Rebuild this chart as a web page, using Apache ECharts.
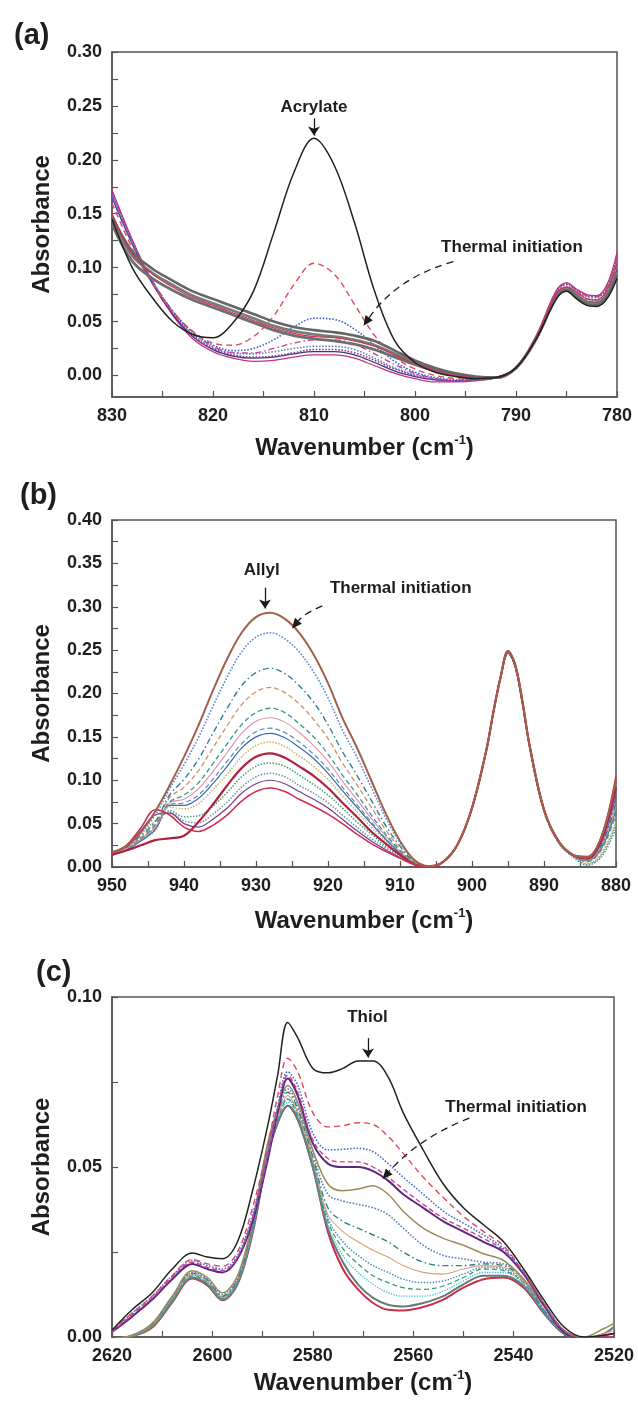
<!DOCTYPE html>
<html><head><meta charset="utf-8">
<script src="https://cdn.jsdelivr.net/npm/echarts@6/dist/echarts.min.js"></script>
<style>html,body{margin:0;padding:0;background:#fff}#c{width:638px;height:1413px}</style>
</head><body><div id="c"></div><script>
// ---------- Panel (a): acrylate band ----------
const WN_A = [830,828,826,824,822,820,818,816,814,812,810,808,806,804,802,800,798,796,794,792,790,788,786,785,784,783,782,781,780];
const A_INITIAL = [0.145,0.100,0.072,0.050,0.038,0.035,0.049,0.078,0.132,0.188,0.220,0.195,0.142,0.078,0.032,0.012,0.003,-0.001,-0.003,-0.002,0.007,0.034,0.071,0.078,0.071,0.065,0.064,0.071,0.090];
const A_RED_DASH = [0.160,0.118,0.085,0.059,0.041,0.030,0.028,0.036,0.055,0.084,0.104,0.094,0.066,0.037,0.017,0.006,0.0,-0.003,-0.004,-0.002,0.007,0.035,0.076,0.082,0.077,0.071,0.070,0.079,0.104];
const A_BLUE_DOT = [0.165,0.122,0.087,0.060,0.040,0.028,0.023,0.025,0.033,0.045,0.053,0.052,0.043,0.028,0.013,0.003,-0.002,-0.004,-0.004,-0.002,0.007,0.035,0.076,0.082,0.077,0.071,0.070,0.079,0.104];
const A_MAG_DASHDOT = [0.168,0.124,0.088,0.060,0.040,0.027,0.021,0.021,0.025,0.030,0.033,0.033,0.029,0.020,0.010,0.002,-0.003,-0.005,-0.004,-0.002,0.007,0.036,0.078,0.085,0.079,0.074,0.073,0.082,0.110];
const A_GRAY_1 = [0.148,0.115,0.099,0.088,0.078,0.071,0.064,0.057,0.050,0.045,0.042,0.040,0.037,0.032,0.023,0.014,0.007,0.002,-0.001,-0.002,0.007,0.034,0.072,0.079,0.072,0.066,0.065,0.073,0.093];
const A_GRAY_2 = [0.145,0.111,0.095,0.084,0.074,0.067,0.060,0.053,0.046,0.041,0.038,0.036,0.033,0.028,0.020,0.012,0.005,0.001,-0.002,-0.002,0.007,0.034,0.073,0.080,0.073,0.067,0.066,0.074,0.095];
const A_GRAY_3 = [0.140,0.106,0.090,0.079,0.070,0.063,0.056,0.049,0.042,0.037,0.034,0.032,0.029,0.024,0.017,0.010,0.004,0.0,-0.002,-0.002,0.007,0.034,0.074,0.081,0.074,0.068,0.067,0.075,0.097];
const A_RED_SOLID = [0.150,0.113,0.094,0.082,0.072,0.065,0.058,0.051,0.044,0.039,0.036,0.035,0.032,0.027,0.019,0.011,0.005,0.0,-0.002,-0.002,0.007,0.035,0.076,0.082,0.077,0.071,0.070,0.079,0.104];
const A_PURPLE_DOT = [0.170,0.125,0.087,0.058,0.037,0.025,0.019,0.017,0.018,0.021,0.024,0.024,0.021,0.014,0.006,0.0,-0.004,-0.005,-0.004,-0.002,0.007,0.036,0.078,0.085,0.079,0.074,0.073,0.082,0.110];
const A_BLUEGRAY_DOT = [0.168,0.124,0.087,0.059,0.038,0.026,0.021,0.020,0.022,0.025,0.027,0.027,0.024,0.016,0.007,0.001,-0.003,-0.005,-0.004,-0.002,0.007,0.036,0.077,0.084,0.078,0.073,0.072,0.081,0.108];
const A_NAVY = [0.165,0.122,0.085,0.057,0.036,0.024,0.018,0.016,0.017,0.020,0.022,0.022,0.019,0.012,0.004,-0.001,-0.004,-0.005,-0.004,-0.002,0.007,0.035,0.075,0.081,0.075,0.069,0.068,0.076,0.098];
const A_MAGENTA = [0.172,0.126,0.086,0.056,0.034,0.022,0.016,0.013,0.014,0.017,0.019,0.019,0.016,0.009,0.002,-0.003,-0.006,-0.006,-0.005,-0.002,0.007,0.037,0.079,0.086,0.080,0.075,0.074,0.084,0.114];
const A_X_TICKS = [780,785,790,795,800,805,810,815,820,825,830];
const A_Y_LABELS = [0,0.05,0.10,0.15,0.20,0.25,0.30];
const A_Y_TICKS = [0,0.025,0.05,0.075,0.10,0.125,0.15,0.175,0.20,0.225,0.25,0.275,0.30];

// ---------- Panel (b): allyl band ----------
const WN_B = [950,948,946,944,942,940,938,936,934,932,930,928,926,924,922,920,918,916,914,912,910,908,906,904,902,900,898,897,896,895,894,893,892,890,888,886,884,882,880];
const B_BROWN = [0.017,0.024,0.040,0.064,0.094,0.127,0.163,0.203,0.240,0.270,0.288,0.293,0.286,0.270,0.245,0.212,0.172,0.138,0.100,0.062,0.030,0.008,0.001,0.006,0.026,0.068,0.135,0.180,0.220,0.249,0.233,0.191,0.140,0.066,0.030,0.014,0.011,0.035,0.100];
const B_BLUE_DOT = [0.016,0.024,0.040,0.060,0.090,0.118,0.149,0.185,0.219,0.248,0.265,0.270,0.263,0.248,0.225,0.195,0.158,0.127,0.092,0.057,0.028,0.007,0.001,0.006,0.026,0.068,0.135,0.180,0.220,0.248,0.232,0.190,0.140,0.066,0.030,0.014,0.010,0.030,0.085];
const B_TEAL_DASHDOT = [0.016,0.023,0.036,0.052,0.083,0.101,0.124,0.154,0.183,0.209,0.224,0.229,0.223,0.209,0.190,0.164,0.133,0.106,0.077,0.048,0.024,0.006,0.001,0.006,0.026,0.068,0.135,0.180,0.220,0.248,0.232,0.190,0.140,0.066,0.030,0.014,0.009,0.026,0.075];
const B_ORANGE_DASH = [0.016,0.022,0.034,0.050,0.080,0.092,0.111,0.137,0.163,0.187,0.202,0.207,0.201,0.188,0.170,0.148,0.120,0.095,0.069,0.043,0.021,0.006,0.001,0.006,0.026,0.068,0.135,0.180,0.220,0.248,0.232,0.190,0.140,0.066,0.030,0.014,0.008,0.024,0.070];
const B_TEAL_DASH = [0.016,0.022,0.033,0.048,0.075,0.083,0.097,0.119,0.142,0.164,0.178,0.183,0.178,0.165,0.150,0.130,0.106,0.084,0.060,0.038,0.019,0.005,0.001,0.006,0.026,0.068,0.135,0.180,0.220,0.247,0.231,0.189,0.139,0.065,0.030,0.014,0.007,0.022,0.065];
const B_PINK = [0.015,0.021,0.032,0.046,0.074,0.078,0.090,0.110,0.132,0.154,0.168,0.172,0.167,0.155,0.140,0.122,0.099,0.078,0.056,0.036,0.018,0.005,0.001,0.006,0.026,0.068,0.135,0.180,0.220,0.248,0.232,0.190,0.140,0.066,0.030,0.014,0.008,0.025,0.072];
const B_STEEL = [0.015,0.021,0.031,0.044,0.072,0.074,0.083,0.101,0.122,0.142,0.156,0.160,0.155,0.144,0.130,0.113,0.092,0.072,0.052,0.033,0.017,0.004,0.001,0.006,0.026,0.068,0.135,0.180,0.220,0.247,0.231,0.189,0.139,0.065,0.029,0.013,0.006,0.020,0.060];
const B_BLUE = [0.015,0.020,0.030,0.043,0.071,0.071,0.079,0.096,0.116,0.137,0.150,0.154,0.149,0.138,0.125,0.108,0.088,0.069,0.050,0.032,0.016,0.004,0.001,0.006,0.026,0.068,0.135,0.180,0.220,0.247,0.231,0.189,0.139,0.065,0.029,0.013,0.007,0.022,0.066];
const B_YELLOW_DOT = [0.015,0.020,0.030,0.042,0.069,0.067,0.073,0.089,0.107,0.127,0.140,0.144,0.139,0.128,0.116,0.101,0.082,0.064,0.046,0.030,0.015,0.004,0.001,0.006,0.026,0.068,0.135,0.180,0.220,0.247,0.231,0.189,0.139,0.065,0.029,0.013,0.004,0.016,0.052];
const B_DARK_RED = [0.014,0.019,0.025,0.031,0.033,0.036,0.052,0.072,0.094,0.114,0.127,0.131,0.126,0.116,0.105,0.091,0.074,0.058,0.041,0.027,0.014,0.003,0.0,0.006,0.026,0.068,0.135,0.180,0.220,0.249,0.233,0.191,0.140,0.066,0.030,0.014,0.010,0.032,0.092];
const B_GREEN_DOT = [0.015,0.020,0.032,0.045,0.065,0.058,0.059,0.070,0.086,0.104,0.116,0.120,0.116,0.106,0.095,0.083,0.068,0.052,0.038,0.024,0.013,0.003,0.0,0.006,0.026,0.068,0.135,0.180,0.220,0.246,0.230,0.188,0.138,0.064,0.028,0.012,0.002,0.012,0.045];
const B_GRAYTEAL_DOT = [0.016,0.022,0.038,0.053,0.063,0.053,0.051,0.061,0.075,0.092,0.104,0.108,0.104,0.094,0.085,0.074,0.060,0.046,0.033,0.022,0.011,0.003,0.0,0.006,0.026,0.068,0.135,0.180,0.220,0.246,0.230,0.188,0.138,0.064,0.028,0.012,0.003,0.014,0.050];
const B_PURPLE = [0.016,0.024,0.042,0.060,0.062,0.050,0.046,0.055,0.068,0.085,0.096,0.100,0.096,0.087,0.078,0.068,0.055,0.042,0.030,0.020,0.011,0.003,0.0,0.006,0.026,0.068,0.135,0.180,0.220,0.248,0.232,0.190,0.140,0.066,0.030,0.014,0.009,0.028,0.082];
const B_FINAL_RED = [0.016,0.025,0.045,0.066,0.060,0.046,0.041,0.048,0.060,0.076,0.087,0.091,0.087,0.078,0.070,0.061,0.050,0.038,0.027,0.018,0.010,0.003,0.0,0.006,0.026,0.068,0.135,0.180,0.220,0.249,0.233,0.191,0.140,0.066,0.030,0.014,0.012,0.036,0.105];
const B_X_TICKS = [880,885,890,895,900,905,910,915,920,925,930,935,940,945,950];
const B_Y_TICKS = [0,0.025,0.05,0.075,0.10,0.125,0.15,0.175,0.20,0.225,0.25,0.275,0.30,0.325,0.35,0.375,0.40];

// ---------- Panel (c): thiol band ----------
const WN_C = [2620,2616,2612,2608,2604,2601,2598,2595,2592,2589,2587,2585,2583,2580,2577,2574,2571,2568,2565,2562,2558,2554,2550,2546,2542,2538,2534,2530,2526,2522,2520];
const C_INITIAL = [0.002,0.008,0.013,0.020,0.0247,0.0235,0.023,0.028,0.043,0.062,0.077,0.0925,0.088,0.079,0.0777,0.079,0.0812,0.0812,0.0765,0.066,0.055,0.045,0.038,0.033,0.028,0.020,0.011,0.003,0.0,0.0005,0.001];
const C_RED_DASH = [0.002,0.007,0.012,0.018,0.0228,0.0215,0.0208,0.025,0.038,0.056,0.071,0.082,0.078,0.066,0.0618,0.0622,0.063,0.0625,0.059,0.054,0.047,0.041,0.0355,0.031,0.0268,0.019,0.010,0.002,-0.0003,0.0005,0.001];
const C_BLUE_DOT_1 = [0.002,0.007,0.012,0.018,0.0225,0.021,0.020,0.024,0.036,0.054,0.068,0.078,0.074,0.060,0.055,0.0552,0.0555,0.0545,0.051,0.047,0.042,0.037,0.0335,0.030,0.026,0.019,0.010,0.002,-0.0004,0.0005,0.001];
const C_MAG_DASH = [0.0015,0.0065,0.0115,0.0175,0.022,0.0205,0.0195,0.0235,0.035,0.053,0.067,0.077,0.072,0.058,0.0525,0.0515,0.0515,0.050,0.047,0.0435,0.039,0.035,0.032,0.029,0.0255,0.019,0.010,0.002,-0.0005,0.0,0.0];
const C_PURPLE = [0.0015,0.006,0.011,0.017,0.0215,0.020,0.019,0.023,0.034,0.052,0.066,0.076,0.071,0.057,0.051,0.050,0.050,0.0488,0.046,0.042,0.038,0.034,0.031,0.028,0.025,0.0185,0.0095,0.0015,-0.0005,-0.0005,-0.0005];
const C_OLIVE = [-0.0005,0.0005,0.004,0.012,0.0195,0.0175,0.013,0.018,0.034,0.057,0.067,0.074,0.069,0.055,0.045,0.043,0.0435,0.0445,0.042,0.037,0.032,0.029,0.027,0.0245,0.0225,0.017,0.009,0.002,0.0,0.0025,0.004];
const C_BLUE_DOT_2 = [-0.0005,0.0005,0.004,0.012,0.019,0.017,0.0125,0.0175,0.033,0.056,0.066,0.073,0.068,0.054,0.042,0.040,0.039,0.038,0.036,0.032,0.027,0.024,0.023,0.022,0.0215,0.017,0.008,0.0015,-0.0003,0.0005,0.001];
const C_TEAL_DASHDOT = [-0.0005,0.0005,0.0038,0.0118,0.0188,0.0168,0.012,0.017,0.033,0.056,0.066,0.072,0.067,0.053,0.038,0.034,0.032,0.030,0.028,0.025,0.022,0.021,0.021,0.0215,0.021,0.017,0.008,0.0015,-0.0003,0.0005,0.001];
const C_ORANGE = [-0.0005,0.0004,0.0036,0.0115,0.0185,0.0165,0.0118,0.0168,0.0325,0.0555,0.065,0.071,0.066,0.052,0.036,0.031,0.028,0.0255,0.0235,0.021,0.019,0.0185,0.020,0.021,0.0205,0.0165,0.008,0.0015,-0.0003,0.001,0.002];
const C_BLUE_DOT_3 = [-0.0005,0.0004,0.0035,0.0113,0.0183,0.0163,0.0116,0.0165,0.032,0.055,0.065,0.070,0.066,0.052,0.035,0.028,0.024,0.021,0.019,0.017,0.016,0.0165,0.0185,0.0205,0.020,0.016,0.008,0.0015,-0.0003,0.0005,0.001];
const C_TEAL_DASH = [-0.0006,0.0003,0.0033,0.011,0.018,0.016,0.0114,0.0162,0.0318,0.0548,0.064,0.070,0.065,0.051,0.034,0.026,0.0215,0.018,0.016,0.0145,0.014,0.015,0.0175,0.020,0.0195,0.016,0.0075,0.0012,-0.0004,0.0005,0.001];
const C_CYAN = [-0.0006,0.0003,0.0032,0.0108,0.0178,0.0158,0.0112,0.016,0.0315,0.0545,0.064,0.069,0.065,0.051,0.033,0.024,0.019,0.0155,0.013,0.012,0.012,0.0135,0.0165,0.019,0.019,0.0155,0.0075,0.0012,-0.0004,0.0005,0.001];
const C_GRAY = [-0.0006,0.0002,0.003,0.0105,0.0175,0.0155,0.011,0.0158,0.031,0.054,0.063,0.068,0.064,0.050,0.032,0.022,0.0155,0.0115,0.0095,0.009,0.010,0.012,0.0155,0.018,0.018,0.015,0.0072,0.001,-0.0005,0.001,0.003];
const C_FINAL_RED = [-0.0007,0.0002,0.0028,0.0102,0.0172,0.0152,0.0108,0.0155,0.0305,0.0535,0.063,0.068,0.064,0.050,0.031,0.020,0.014,0.010,0.008,0.0078,0.0088,0.011,0.0145,0.017,0.0175,0.0145,0.007,0.001,-0.0005,0.0,0.0];
const C_X_TICKS = [2520,2530,2540,2550,2560,2570,2580,2590,2600,2610,2620];
const C_Y_TICKS = [0,0.025,0.05,0.075,0.10];

// ---------- styling ----------
const FONT = '"Liberation Sans", Arial, Helvetica, sans-serif';
const TXT = '#1e1e1e';
const FRAME = '#555';
const DASHDOT = [6,3,1.5,3];

function mk(wn, vals, gi, color, width, type, z) {
  return {
    type: 'line', xAxisIndex: gi, yAxisIndex: gi, showSymbol: false, symbol: 'none',
    smooth: 0.35, silent: true, z: z || 2,
    lineStyle: {color: color, width: width, type: type || 'solid'},
    data: wn.map((w, i) => [w, vals[i]])
  };
}

const series = [
  // (a) lower bundle
  mk(WN_A, A_MAGENTA, 0, '#c8307a', 1.3),
  mk(WN_A, A_NAVY, 0, '#3a3a7a', 1.3),
  mk(WN_A, A_BLUEGRAY_DOT, 0, '#6a86b0', 1.6, 'dotted'),
  mk(WN_A, A_PURPLE_DOT, 0, '#8a3a9a', 1.6, 'dotted'),
  mk(WN_A, A_MAG_DASHDOT, 0, '#c040a0', 1.3, DASHDOT),
  mk(WN_A, A_BLUE_DOT, 0, '#4a60d0', 1.6, 'dotted'),
  mk(WN_A, A_RED_DASH, 0, '#e04a5a', 1.4, [6,4]),
  mk(WN_A, A_GRAY_3, 0, '#6e6e6e', 2.8),
  mk(WN_A, A_GRAY_2, 0, '#7a7a7a', 2.8),
  mk(WN_A, A_GRAY_1, 0, '#666666', 2.6),
  mk(WN_A, A_RED_SOLID, 0, '#d03050', 1.1),
  mk(WN_A, A_INITIAL, 0, '#222222', 1.5, 'solid', 3),
  // (b)
  mk(WN_B, B_GREEN_DOT, 1, '#4f9a78', 1.5, 'dotted'),
  mk(WN_B, B_GRAYTEAL_DOT, 1, '#6a9aa0', 1.5, 'dotted'),
  mk(WN_B, B_PURPLE, 1, '#7a3a90', 1.2),
  mk(WN_B, B_YELLOW_DOT, 1, '#cdb060', 1.5, 'dotted'),
  mk(WN_B, B_BLUE, 1, '#3a6ab0', 1.2),
  mk(WN_B, B_STEEL, 1, '#5a8ab0', 1.2, [5,3]),
  mk(WN_B, B_PINK, 1, '#e090b0', 1.1),
  mk(WN_B, B_TEAL_DASH, 1, '#2f9a8a', 1.3, [5,3]),
  mk(WN_B, B_ORANGE_DASH, 1, '#d49060', 1.3, [5,3]),
  mk(WN_B, B_TEAL_DASHDOT, 1, '#2a7f9a', 1.4, DASHDOT),
  mk(WN_B, B_BLUE_DOT, 1, '#5a8ad0', 1.6, 'dotted'),
  mk(WN_B, B_DARK_RED, 1, '#b02040', 2.2),
  mk(WN_B, B_FINAL_RED, 1, '#d03050', 1.6),
  mk(WN_B, B_BROWN, 1, '#a0604a', 2.0, 'solid', 3),
  // (c)
  mk(WN_C, C_FINAL_RED, 2, '#c83048', 2.0),
  mk(WN_C, C_GRAY, 2, '#6a7a78', 2.0),
  mk(WN_C, C_CYAN, 2, '#40bcd0', 1.3, 'dotted'),
  mk(WN_C, C_TEAL_DASH, 2, '#3a9a7a', 1.3, [5,3]),
  mk(WN_C, C_BLUE_DOT_3, 2, '#4a90c8', 1.5, 'dotted'),
  mk(WN_C, C_ORANGE, 2, '#d8a070', 1.1),
  mk(WN_C, C_TEAL_DASHDOT, 2, '#2a8080', 1.4, DASHDOT),
  mk(WN_C, C_BLUE_DOT_2, 2, '#5a80c8', 1.6, 'dotted'),
  mk(WN_C, C_OLIVE, 2, '#9a8c5a', 1.5),
  mk(WN_C, C_PURPLE, 2, '#5a2a7a', 2.0),
  mk(WN_C, C_MAG_DASH, 2, '#d03a9a', 1.4, [5,3]),
  mk(WN_C, C_BLUE_DOT_1, 2, '#4a70d0', 1.6, 'dotted'),
  mk(WN_C, C_RED_DASH, 2, '#e04858', 1.4, [6,4]),
  mk(WN_C, C_INITIAL, 2, '#222222', 1.5, 'solid', 3)
];

// ---------- annotations (anchored in data coordinates) ----------
function arrowLine(s, from, to) {
  s.markLine = {
    silent: true, animation: false, symbol: ['none', 'arrow'], symbolSize: 9,
    label: {show: false},
    lineStyle: {color: '#1a1a1a', width: 1.3, type: 'solid'},
    data: [[{coord: from}, {coord: to}]]
  };
}
function texts(s, list) {
  s.markPoint = {
    silent: true, animation: false, symbol: 'circle', symbolSize: 1,
    itemStyle: {color: 'rgba(0,0,0,0)'},
    label: {show: true, position: 'inside', formatter: p => p.name, fontSize: 17, fontWeight: 'bold', fontFamily: FONT, color: TXT},
    data: list.map(t => ({name: t.text, coord: t.at}))
  };
}
arrowLine(series[11], [810, 0.2385], [810, 0.2225]);
texts(series[11], [{text: 'Acrylate', at: [810, 0.249]}, {text: 'Thermal initiation', at: [790.4, 0.1185]}]);
arrowLine(series[25], [928.75, 0.322], [928.75, 0.298]);
texts(series[25], [{text: 'Allyl', at: [929.2, 0.342]}, {text: 'Thermal initiation', at: [909.9, 0.3216]}]);
arrowLine(series[39], [2569, 0.0879], [2569, 0.0822]);
texts(series[39], [{text: 'Thiol', at: [2569.1, 0.0941]}, {text: 'Thermal initiation', at: [2539.5, 0.0676]}]);

// curved dashed leaders: [gridIndex, from (data), to (data), curveness]
const LEADERS = [
  [0, [796.2, 0.1056], [805.1, 0.046], -0.18],
  [1, [920.8, 0.301], [925.0, 0.275], -0.12],
  [2, [2548.8, 0.0644], [2566.1, 0.0465], -0.12]
];

// ---------- axes ----------
const tickLabel = {fontSize: 18, fontWeight: 'bold', fontFamily: FONT, color: TXT, margin: 10};
const axisLine = {show: true, onZero: false, lineStyle: {color: FRAME, width: 1.5}};
const axisTick = ticks => ({show: true, inside: true, length: 6, customValues: ticks, lineStyle: {color: FRAME, width: 1.2}});
const xName = {
  name: '{t|Wavenumber (cm}{s|-1}{t|)}', nameLocation: 'middle',
  nameTextStyle: {rich: {
    t: {fontSize: 24, fontWeight: 'bold', fontFamily: FONT, color: TXT, lineHeight: 28},
    s: {fontSize: 13, fontWeight: 'bold', fontFamily: FONT, color: TXT, verticalAlign: 'top', lineHeight: 28}
  }}
};
function xAxis(gi, min, max, interval, ticks, gap) {
  return Object.assign({type: 'value', gridIndex: gi, min, max, interval, inverse: true, nameGap: gap,
    axisLine, axisTick: axisTick(ticks),
    axisLabel: Object.assign({formatter: v => String(v)}, tickLabel),
    splitLine: {show: false}}, xName);
}
function yAxis(gi, min, max, ticks, labels, interval) {
  const lab = Object.assign({formatter: v => v.toFixed(2)}, tickLabel);
  if (labels) lab.customValues = labels;
  const ax = {type: 'value', gridIndex: gi, min, max,
    name: 'Absorbance', nameLocation: 'middle', nameGap: 58,
    nameTextStyle: {fontSize: 24, fontWeight: 'bold', fontFamily: FONT, color: TXT},
    axisLine, axisTick: axisTick(ticks), axisLabel: lab, splitLine: {show: false}};
  if (interval) ax.interval = interval;
  return ax;
}

const grid = g => Object.assign({show: true, borderColor: FRAME, borderWidth: 1.5, backgroundColor: 'transparent'}, g);

const option = {
  animation: false,
  backgroundColor: '#ffffff',
  title: [
    {text: '(a)', left: 9, top: 16, textStyle: {fontSize: 29, fontWeight: 'bold', fontFamily: FONT, color: TXT}},
    {text: '(b)', left: 15, top: 476, textStyle: {fontSize: 29, fontWeight: 'bold', fontFamily: FONT, color: TXT}},
    {text: '(c)', left: 31, top: 953, textStyle: {fontSize: 29, fontWeight: 'bold', fontFamily: FONT, color: TXT}}
  ],
  grid: [
    grid({left: 112, right: 21, top: 52, bottom: 1016}),
    grid({left: 112, right: 22, top: 520, bottom: 546}),
    grid({left: 112, right: 24, top: 997, bottom: 76})
  ],
  xAxis: [
    xAxis(0, 780, 830, 10, A_X_TICKS, 37),
    xAxis(1, 880, 950, 10, B_X_TICKS, 40),
    xAxis(2, 2520, 2620, 20, C_X_TICKS, 32)
  ],
  yAxis: [
    yAxis(0, -0.02, 0.30, A_Y_TICKS, A_Y_LABELS, null),
    yAxis(1, 0, 0.40, B_Y_TICKS, null, 0.05),
    yAxis(2, 0, 0.10, C_Y_TICKS, null, 0.05)
  ],
  series: series
};

const chart = echarts.init(document.getElementById('c'), null, {renderer: 'canvas'});
chart.setOption(option);

// draw the curved dashed leaders using the chart's own coordinate conversion
const graphics = [];
LEADERS.forEach(([gi, from, to, curve]) => {
  const p1 = chart.convertToPixel({gridIndex: gi}, from);
  const p2 = chart.convertToPixel({gridIndex: gi}, to);
  const cp = [(p1[0] + p2[0]) / 2 - (p1[1] - p2[1]) * curve, (p1[1] + p2[1]) / 2 - (p2[0] - p1[0]) * curve];
  const dx = p2[0] - cp[0], dy = p2[1] - cp[1], len = Math.hypot(dx, dy);
  const ux = dx / len, uy = dy / len, L = 10, W = 4.5;
  const base = [p2[0] - ux * L, p2[1] - uy * L];
  graphics.push({type: 'bezierCurve', silent: true, z: 100,
    shape: {x1: p1[0], y1: p1[1], x2: base[0], y2: base[1], cpx1: cp[0], cpy1: cp[1]},
    style: {stroke: '#1a1a1a', lineWidth: 1.3, lineDash: [7, 5], fill: null}});
  graphics.push({type: 'polygon', silent: true, z: 100,
    shape: {points: [p2, [base[0] - uy * W, base[1] + ux * W], [base[0] + uy * W, base[1] - ux * W]]},
    style: {fill: '#1a1a1a'}});
});
chart.setOption({graphic: graphics});
</script></body></html>
